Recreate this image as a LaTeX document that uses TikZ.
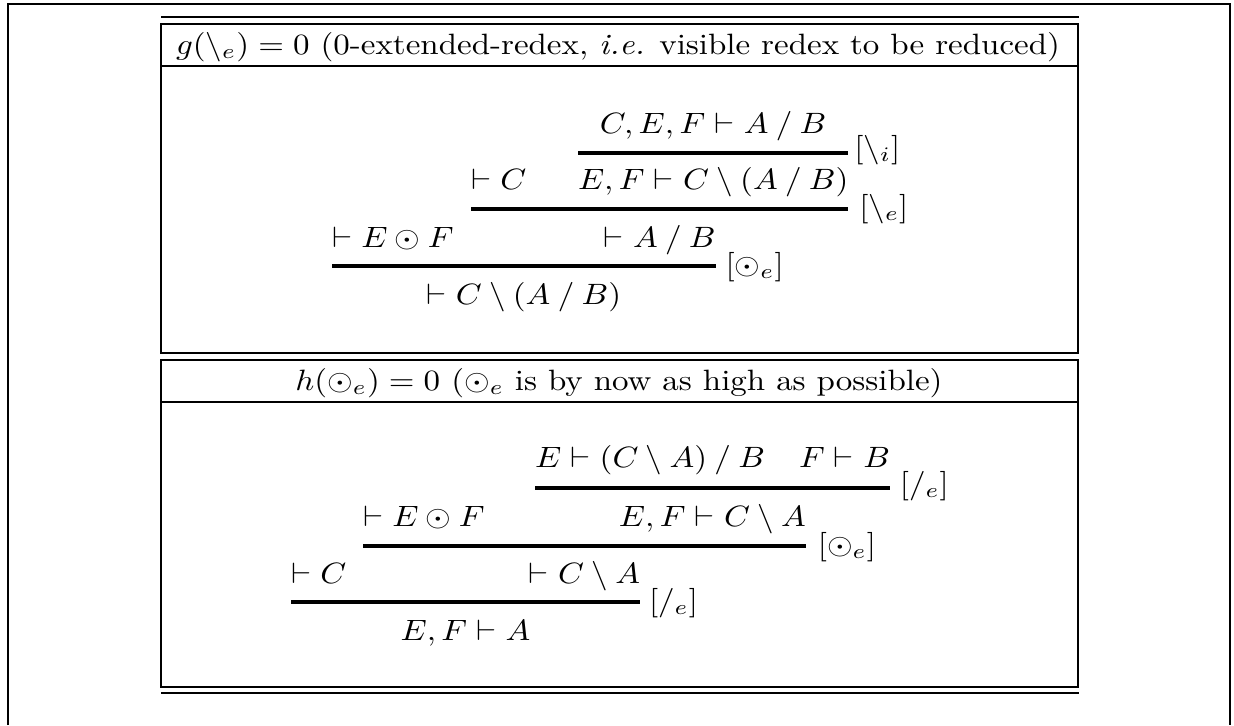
\documentclass[tikz,border=0pt]{standalone}
\usepackage{graphicx}
\newlength\hdrw
\newcommand\ldv{\mathbin{\backslash}}
\newcommand\rdv{\mathbin{/}}
\newcommand\hdrone{$g(\backslash_e) = 0$ (0-extended-redex, \textit{i.e.} visible redex to be reduced)}
\newcommand\hdrtwo{$h(\odot_e) = 0$ ($\odot_e$ is by now as high as possible)}
\newcommand\sxb[1]{\scalebox{\sx}[1]{#1}}
\begin{document}
\settowidth{\hdrw}{\hdrone}%
\pgfmathsetmacro{\sx}{884*0.34/\hdrw}%
\begin{tikzpicture}[x=0.34pt,y=-0.34pt,
  txt/.style={inner sep=0pt,outer sep=0pt},
  infr/.style={line width=1.05pt},
  frm/.style={line width=0.85pt}]
\useasboundingbox (0,0) rectangle (1234,725);
% frames
\draw[frm] (8,725) -- (8,4) -- (1230,4) -- (1230,725);
\draw[frm] (161,17) -- (1079,17);
\draw[frm] (161,24) rectangle (1078,353);
\draw[frm] (161,66) -- (1078,66);
\draw[frm] (161,360) rectangle (1078,687);
\draw[frm] (161,402) -- (1078,402);
\draw[frm] (161,693) -- (1079,693);
% headers
\node[txt,anchor=base] (h1) at (618,54) {\sxb{\hdrone}};
\node[txt,anchor=base] (h2) at (619,390) {\sxb{\hdrtwo}};
% helper y levels
\coordinate (ya) at (0,133);
\coordinate (ra) at (0,153);
\coordinate (yb) at (0,189);
\coordinate (rb) at (0,209);
\coordinate (yc) at (0,247);
\coordinate (rc) at (0,266);
\coordinate (yd) at (0,304);
% tree 1
\node[txt,anchor=base west] (n13) at (471,189) {\sxb{$\vdash C$}};
\node[txt,anchor=base west] (n12) at (578,189) {\sxb{$E, F \vdash C \ldv (A \rdv B)$}};
\path (n12.west) -- (n12.east) coordinate[midway] (c12);
\node[txt,anchor=base] (n11) at (c12 |- ya) {\sxb{$C, E, F \vdash A \rdv B$}};
\coordinate (r1s) at (n12.west |- ra);
\coordinate (r1e) at (n12.east |- ra);
\draw[infr] (r1s) -- (r1e);
\node[txt,anchor=west] (l1) at ([shift={(6,-3)}]r1e) {\sxb{$[\backslash_i]$}};
\coordinate (r2s) at (n13.west |- rb);
\coordinate (r2e) at (n12.east |- rb);
\draw[infr] (r2s) -- (r2e);
\node[txt,anchor=west] (l2) at ([shift={(11,0)}]r2e) {\sxb{$[\backslash_e]$}};
\path (r2s) -- (r2e) coordinate[midway] (c2);
\node[txt,anchor=base] (n14) at (c2 |- yc) {\sxb{$\vdash A \rdv B$}};
\node[txt,anchor=base west] (n15) at (332,247) {\sxb{$\vdash E \odot F$}};
\coordinate (r3s) at (n15.west |- rc);
\coordinate (r3e) at (n14.east |- rc);
\draw[infr] (r3s) -- (r3e);
\node[txt,anchor=west] (l3) at ([shift={(10,1)}]r3e) {\sxb{$[\odot_e]$}};
\path (r3s) -- (r3e) coordinate[midway] (c3);
\node[txt,anchor=base] (n16) at (c3 |- yd) {\sxb{$\vdash C \ldv (A \rdv B)$}};
% tree 2
\coordinate (ye) at (0,467);
\coordinate (re) at (0,488);
\coordinate (yf) at (0,526);
\coordinate (rf) at (0,546);
\coordinate (yg) at (0,583);
\coordinate (rg) at (0,602);
\coordinate (yh) at (0,640);
\node[txt,anchor=base west] (m11) at (535,467) {\sxb{$E \vdash (C \ldv A) \rdv B$}};
\node[txt,anchor=base west] (m12) at (799,467) {\sxb{$F \vdash B$}};
\coordinate (s1s) at (m11.west |- re);
\coordinate (s1e) at (m12.east |- re);
\draw[infr] (s1s) -- (s1e);
\node[txt,anchor=west] (k1) at ([shift={(10,-2)}]s1e) {\sxb{$[/_e]$}};
\path (s1s) -- (s1e) coordinate[midway] (d1);
\node[txt,anchor=base] (m13) at (d1 |- yf) {\sxb{$E, F \vdash C \ldv A$}};
\node[txt,anchor=base west] (m14) at (363,526) {\sxb{$\vdash E \odot F$}};
\coordinate (s2s) at (m14.west |- rf);
\coordinate (s2e) at (m13.east |- rf);
\draw[infr] (s2s) -- (s2e);
\node[txt,anchor=west] (k2) at ([shift={(12,1)}]s2e) {\sxb{$[\odot_e]$}};
\path (s2s) -- (s2e) coordinate[midway] (d2);
\node[txt,anchor=base] (m15) at (d2 |- yg) {\sxb{$\vdash C \ldv A$}};
\node[txt,anchor=base west] (m16) at (291,583) {\sxb{$\vdash C$}};
\coordinate (s3s) at (m16.west |- rg);
\coordinate (s3e) at (m15.east |- rg);
\draw[infr] (s3s) -- (s3e);
\node[txt,anchor=west] (k3) at ([shift={(9,1)}]s3e) {\sxb{$[/_e]$}};
\path (s3s) -- (s3e) coordinate[midway] (d3);
\node[txt,anchor=base] (m17) at (d3 |- yh) {\sxb{$E, F \vdash A$}};
\end{tikzpicture}
\end{document}
